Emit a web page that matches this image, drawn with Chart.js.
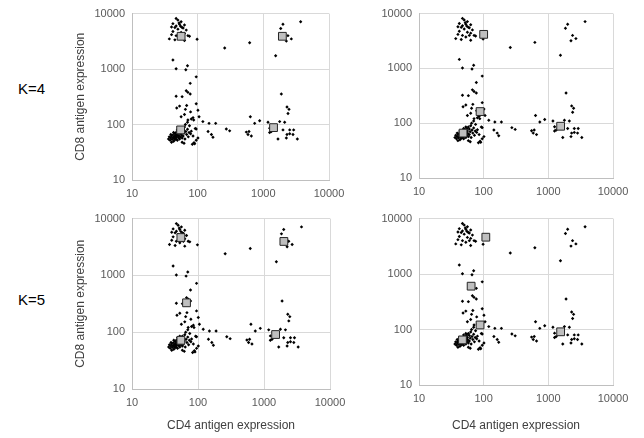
<!DOCTYPE html>
<html>
<head>
<meta charset="utf-8">
<script src="https://cdn.jsdelivr.net/npm/chart.js@4.4.1/dist/chart.umd.min.js"></script>
<style>
  body { margin:0; background:#fff; width:644px; height:438px; position:relative; overflow:hidden; font-family:"Liberation Sans", Arial, sans-serif; }
  canvas { position:absolute; }
  .klabel { position:absolute; font-size:15px; line-height:17px; color:#000; }
</style>
</head>
<body>
<div class="klabel" style="left:18px;top:80px">K=4</div>
<div class="klabel" style="left:18px;top:291px">K=5</div>
<canvas id="c1" width="290" height="205" style="left:66px;top:0px"></canvas>
<canvas id="c2" width="274" height="205" style="left:370px;top:0px"></canvas>
<canvas id="c3" width="290" height="233" style="left:66px;top:205px"></canvas>
<canvas id="c4" width="274" height="233" style="left:370px;top:205px"></canvas>
<script>
// cells: CD4 and CD8 expression (same cells in every panel)
var cd4 = [
  47, 50, 56, 42, 53, 47, 63, 40, 45, 58, 50, 67, 42, 56, 63, 40, 47, 71, 37, 45, 63, 53, 60, 75, 98, 55, 52, 60,
  258, 619,
  1990, 1840, 3700, 2370, 2670, 2240, 1540,
  42, 47, 70, 66, 95, 77, 67, 71, 77, 47, 58, 95, 53, 68, 48, 65, 101, 78, 63, 56, 85, 105, 71, 80, 87, 120,
  149, 188, 144, 162, 171, 273, 307, 634, 551, 605, 738, 879, 584, 657, 1178, 1249, 1324, 1880, 2293, 2460, 2375,
  1774, 2113, 1992, 2520, 2897, 2293, 2240, 2520, 2830, 3295, 1672, 1249,
  36, 38, 37, 39, 40, 41, 42, 42, 43, 44, 44, 45, 45, 46, 46, 47, 47, 48, 48, 49, 50, 50, 51, 52, 52, 53, 54, 55,
  55, 56, 57, 58, 58, 60, 60, 62, 63, 64, 66, 68, 70, 72, 74, 78, 80, 85, 88, 90, 95, 92, 75, 65, 70, 58, 62, 40,
  39, 43, 49, 53, 83, 101, 95
];
var cd8 = [
  8170, 7640, 7140, 6590, 6410, 6000, 6240, 5750, 5610, 5610, 5240, 5040, 4770, 4580, 4400, 4170, 4000, 4000, 3500, 3360, 3270, 3740, 4000, 3900, 3450, 5900, 6800, 5500,
  2400, 2980,
  6410, 5390, 7140, 4000, 3500, 3190, 1740,
  1460, 1015, 1145, 973, 724, 553, 406, 380, 355, 323, 318, 237, 215, 221, 199, 188, 181, 169, 152, 138, 133, 138, 121, 126, 121, 113,
  105, 105, 75, 66, 59, 83, 77, 138, 73, 75, 105, 117, 66, 62, 110, 86, 75, 355, 207, 188, 158,
  113, 110, 80, 80, 80, 66, 57, 68, 66, 55, 55, 72,
  55, 52, 60, 57, 62, 54, 58, 65, 50, 61, 56, 68, 53, 63, 59, 72, 55, 66, 60, 52, 70, 64, 58, 75, 62, 55, 68, 80,
  60, 72, 65, 85, 57, 78, 62, 70, 90, 55, 75, 66, 82, 60, 72, 68, 76, 62, 47, 45, 52, 85, 95, 100, 110, 48, 46, 48,
  66, 72, 80, 85, 44, 57, 83
];

// cluster centres for each panel
var k4LeftCD4 = [56, 1950, 55, 1430];
var k4LeftCD8 = [3900, 3900, 80, 88];
var k4RightCD4 = [100, 88, 48, 1550];
var k4RightCD8 = [4180, 163, 66, 88];
var k5LeftCD4 = [55, 2000, 67, 55, 1500];
var k5LeftCD8 = [4640, 3960, 329, 72, 91];
var k5RightCD4 = [108, 64, 88, 47, 1550];
var k5RightCD8 = [4620, 605, 121, 65, 91];

var tickValues = [10, 100, 1000, 10000];

Chart.defaults.font.family = '"Liberation Sans", Arial, sans-serif';
Chart.defaults.animation = false;

function pairs(xs, ys){
  return xs.map(function(x, i){ return {x: x, y: ys[i]}; });
}

function logAxis(size, isX, title){
  var axis = {
    type: 'logarithmic',
    min: 10,
    max: 10000,
    grid: { color: '#d9d9d9', drawTicks: false },
    border: { color: '#bfbfbf' },
    ticks: {
      color: '#595959',
      font: { size: 11 },
      padding: 7,
      autoSkip: false,
      maxRotation: 0,
      callback: function(v){ return String(v); }
    },
    afterBuildTicks: function(s){ s.ticks = tickValues.map(function(v){ return {value: v}; }); },
    afterFit: function(s){ if (isX) { s.height = size; } else { s.width = size; } }
  };
  if (title) {
    axis.title = {
      display: true,
      text: title,
      color: '#404040',
      font: { size: 12 },
      padding: isX ? { top: 4, bottom: 5 } : { top: 7, bottom: 4 }
    };
  }
  return axis;
}

function makePanel(id, cx, cy, yw, xh, pad, yTitle, xTitle){
  new Chart(document.getElementById(id), {
    type: 'scatter',
    data: {
      datasets: [
        {
          data: pairs(cx, cy),
          pointStyle: 'rect',
          pointRadius: 5.5,
          backgroundColor: '#bfbfbf',
          borderColor: '#262626',
          borderWidth: 1
        },
        {
          data: pairs(cd4, cd8),
          pointStyle: 'rectRot',
          pointRadius: 1.7,
          backgroundColor: '#000',
          borderColor: '#000',
          borderWidth: 0
        }
      ]
    },
    options: {
      responsive: false,
      devicePixelRatio: 1,
      layout: { padding: pad },
      plugins: { legend: { display: false }, tooltip: { enabled: false } },
      scales: {
        x: logAxis(xh, true, xTitle),
        y: logAxis(yw, false, yTitle)
      }
    }
  });
}

makePanel('c1', k4LeftCD4, k4LeftCD8, 66, 25, {left: 0, top: 9, right: 27, bottom: 0}, 'CD8 antigen expression', null);
makePanel('c2', k4RightCD4, k4RightCD8, 49, 27, {left: 0, top: 9, right: 31, bottom: 0}, null, null);
makePanel('c3', k5LeftCD4, k5LeftCD8, 66, 49, {left: 0, top: 11, right: 26, bottom: 0}, 'CD8 antigen expression', 'CD4 antigen expression');
makePanel('c4', k5RightCD4, k5RightCD8, 49, 53, {left: 0, top: 10, right: 31, bottom: 0}, null, 'CD4 antigen expression');
</script>
</body>
</html>
